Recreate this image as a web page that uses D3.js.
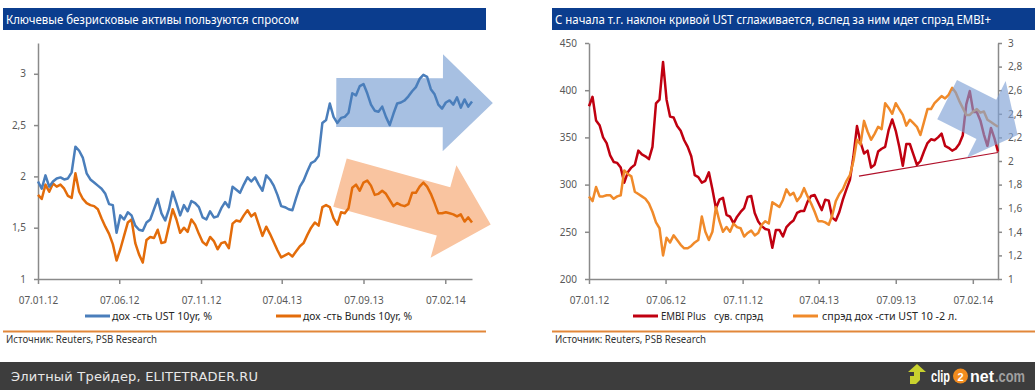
<!DOCTYPE html>
<html>
<head>
<meta charset="utf-8">
<script src="https://cdn.jsdelivr.net/npm/d3@7"></script>
<style>
  body { margin: 0; background: #fff; }
  svg { display: block; }
  text { font-family: "Noto Sans", "Open Sans", sans-serif; }
  .tick text { fill: #595959; font-size: 10px; }
  .axis path, .axis line { stroke: #8a8a8a; stroke-width: 1.5; }
</style>
</head>
<body>
<svg id="viz" width="1035" height="390"></svg>
<script>
// weekly observations starting 07.01.2012
const firstWeek = '2012-01-07';

const ustYield = [
  1.95,1.88,2.01,1.90,1.95,1.98,1.99,1.97,1.98,2.04,
  2.29,2.25,2.18,2.03,1.97,1.94,1.91,1.88,1.83,1.73,
  1.72,1.45,1.62,1.58,1.65,1.62,1.52,1.48,1.47,1.55,
  1.58,1.68,1.78,1.64,1.57,1.68,1.85,1.74,1.62,1.72,
  1.66,1.76,1.74,1.70,1.60,1.58,1.66,1.60,1.61,1.69,
  1.75,1.70,1.90,1.87,1.84,1.92,1.99,1.95,1.99,1.92,
  1.86,2.01,1.97,1.91,1.82,1.71,1.70,1.68,1.67,1.79,
  1.90,1.96,2.05,2.13,2.15,2.20,2.52,2.55,2.71,2.58,
  2.52,2.57,2.58,2.62,2.81,2.79,2.88,2.90,2.81,2.70,
  2.64,2.63,2.68,2.58,2.50,2.61,2.71,2.72,2.74,2.78,
  2.83,2.87,2.95,2.99,2.97,2.85,2.80,2.70,2.66,2.72,
  2.74,2.70,2.77,2.67,2.75,2.68,2.73
];
const bundYield = [
  1.82,1.78,1.92,1.85,1.93,1.90,1.92,1.88,1.81,1.79,
  2.03,1.85,1.78,1.74,1.72,1.71,1.68,1.59,1.51,1.44,
  1.34,1.18,1.29,1.42,1.55,1.58,1.35,1.24,1.16,1.38,
  1.41,1.40,1.48,1.35,1.36,1.52,1.68,1.58,1.45,1.50,
  1.46,1.58,1.53,1.44,1.36,1.33,1.41,1.37,1.29,1.35,
  1.36,1.30,1.54,1.57,1.56,1.62,1.67,1.61,1.64,1.53,
  1.42,1.51,1.44,1.36,1.28,1.21,1.23,1.25,1.22,1.27,
  1.32,1.35,1.43,1.50,1.55,1.52,1.70,1.72,1.70,1.59,
  1.53,1.65,1.64,1.69,1.89,1.92,1.86,1.94,1.96,1.91,
  1.82,1.83,1.86,1.83,1.77,1.71,1.74,1.72,1.71,1.73,
  1.84,1.84,1.90,1.94,1.90,1.83,1.74,1.64,1.64,1.65,
  1.64,1.63,1.61,1.63,1.56,1.60,1.55
];
const embiSpread = [
  383,393,368,363,350,344,331,324,323,318,
  302,313,318,321,336,332,330,327,340,386,
  390,430,390,372,371,362,357,347,340,330,
  310,308,302,304,313,295,275,284,286,268,
  266,259,266,271,275,287,288,270,261,256,
  253,252,233,252,252,245,255,259,262,270,
  272,272,282,288,289,281,273,284,283,265,
  262,271,284,295,305,330,362,345,333,336,
  318,321,335,338,340,358,369,357,340,320,
  343,343,332,321,325,335,344,348,347,350,
  354,341,339,336,338,343,352,385,399,377,
  377,368,353,341,360,349,335
];
const ust10y2y = [
  1.70,1.66,1.78,1.70,1.70,1.71,1.71,1.68,1.70,1.71,
  1.92,1.89,1.87,1.74,1.72,1.70,1.68,1.64,1.57,1.48,
  1.43,1.20,1.35,1.31,1.37,1.33,1.29,1.26,1.26,1.28,
  1.31,1.33,1.53,1.40,1.33,1.40,1.61,1.49,1.40,1.44,
  1.40,1.47,1.44,1.43,1.36,1.39,1.41,1.37,1.39,1.46,
  1.49,1.47,1.65,1.63,1.61,1.67,1.76,1.71,1.73,1.66,
  1.70,1.77,1.70,1.64,1.57,1.49,1.49,1.48,1.46,1.54,
  1.66,1.72,1.76,1.83,1.88,2.00,2.18,2.14,2.34,2.25,
  2.18,2.23,2.29,2.27,2.49,2.45,2.40,2.49,2.44,2.39,
  2.30,2.35,2.32,2.29,2.22,2.33,2.44,2.44,2.49,2.52,
  2.55,2.53,2.56,2.62,2.58,2.51,2.45,2.39,2.39,2.42,
  2.44,2.41,2.42,2.35,2.33,2.31,2.29
];

const dateTicks = ['07.01.12', '07.06.12', '07.11.12', '07.04.13', '07.09.13', '07.02.14'];
const yieldTicks = [1, 1.5, 2, 2.5, 3];
const embiTicks = [200, 250, 300, 350, 400, 450];
const slopeTicks = [1, 1.2, 1.4, 1.6, 1.8, 2, 2.2, 2.4, 2.6, 2.8, 3];

// EMBI support line (left axis units)
const embiSupport = [['2013-06-26', 309], ['2014-03-29', 334]];

const titles = [
  'Ключевые безрисковые активы пользуются спросом',
  'С начала т.г. наклон кривой UST сглаживается, вслед за ним идет спрэд EMBI+'
];
const source = 'Источник: Reuters, PSB Research';

const parseISO = d3.timeParse('%Y-%m-%d');
const parseTick = d3.timeParse('%d.%m.%y');
const start = parseISO(firstWeek);
const dates = ustYield.map((_, i) => d3.timeDay.offset(start, 7 * i));
const comma = v => String(v).replace('.', ',');

const svg = d3.select('#viz');

// ---------- frames, titles, footers
function frame(x0, x1, title, titleLen) {
  svg.append('rect').attr('x', x0).attr('y', 8).attr('width', x1 - x0).attr('height', 22)
    .attr('fill', '#0b3d8e');
  svg.append('text').attr('x', x0 + 3).attr('y', 24)
    .attr('fill', '#fff').attr('font-size', 12)
    .attr('textLength', titleLen).attr('lengthAdjust', 'spacingAndGlyphs')
    .text(title);
  svg.append('line').attr('x1', x0).attr('x2', x1).attr('y1', 331.5).attr('y2', 331.5)
    .attr('stroke', '#e2873a').attr('stroke-width', 2);
  svg.append('text').attr('x', x0 + 3).attr('y', 343)
    .attr('fill', '#333').attr('font-size', 10.5)
    .attr('textLength', 151).attr('lengthAdjust', 'spacingAndGlyphs')
    .text(source);
}
frame(3, 486, titles[0], 293);
frame(552, 1035, titles[1], 436);

// ---------- arrow helper (annotation shapes)
function arrowPath(t, p, body, head, headLen) {
  const dx = p[0] - t[0], dy = p[1] - t[1];
  const L = Math.hypot(dx, dy);
  const ux = dx / L, uy = dy / L, nx = -uy, ny = ux;
  const bx = t[0] + ux * (L - headLen), by = t[1] + uy * (L - headLen);
  const pts = [
    [t[0] + nx * body, t[1] + ny * body],
    [bx + nx * body, by + ny * body],
    [bx + nx * head, by + ny * head],
    p,
    [bx - nx * head, by - ny * head],
    [bx - nx * body, by - ny * body],
    [t[0] - nx * body, t[1] - ny * body]
  ];
  return d3.line()(pts) + 'Z';
}

// ---------- left chart
{
  const x = d3.scaleTime().domain([dates[0], dates[dates.length - 1]]).range([38, 472]);
  const y = d3.scaleLinear().domain([1, 3.3]).range([279, 43]);

  // arrows (behind lines)
  svg.append('path')
    .attr('d', arrowPath([x(parseISO('2013-07-18')), y(2.72)], [x(parseISO('2014-05-07')), y(2.715)], 24.5, 48.5, 50))
    .attr('fill', '#a7c0e2');
  svg.append('path')
    .attr('d', arrowPath([x(parseISO('2013-07-25')), y(1.94)], [x(parseISO('2014-05-03')), y(1.53)], 25, 48, 49))
    .attr('fill', '#f9c4a0');

  svg.append('g').attr('class', 'axis')
    .attr('transform', 'translate(0,279)')
    .call(d3.axisBottom(x).tickValues(dateTicks.map(parseTick))
      .tickFormat(d3.timeFormat('%d.%m.%y')).tickSize(5).tickSizeOuter(0).tickPadding(13));
  svg.append('g').attr('class', 'axis')
    .attr('transform', 'translate(38,0)')
    .call(d3.axisLeft(y).tickValues(yieldTicks).tickFormat(comma)
      .tickSize(4).tickSizeOuter(0).tickPadding(8));

  const line = d3.line().x((d, i) => x(dates[i])).y(d => y(d));
  svg.append('path').datum(bundYield).attr('d', line)
    .attr('fill', 'none').attr('stroke', '#e36c0a').attr('stroke-width', 2.5).attr('stroke-linejoin', 'round');
  svg.append('path').datum(ustYield).attr('d', line)
    .attr('fill', 'none').attr('stroke', '#4a7ebb').attr('stroke-width', 2.5).attr('stroke-linejoin', 'round');

  // legend
  const lg = [
    { x: 85, color: '#4a7ebb', label: 'дох -сть UST 10yr, %', len: 100 },
    { x: 276, color: '#e36c0a', label: 'дох -сть Bunds 10yr, %', len: 109 }
  ];
  lg.forEach(d => {
    svg.append('line').attr('x1', d.x).attr('x2', d.x + 25).attr('y1', 316).attr('y2', 316)
      .attr('stroke', d.color).attr('stroke-width', 3);
    svg.append('text').attr('x', d.x + 27).attr('y', 320).attr('font-size', 11).attr('fill', '#262626')
      .attr('textLength', d.len).attr('lengthAdjust', 'spacingAndGlyphs').text(d.label);
  });
}

// ---------- right chart
{
  const x = d3.scaleTime().domain([dates[0], dates[dates.length - 1]]).range([589, 998]);
  const yL = d3.scaleLinear().domain([200, 450]).range([279, 43]);
  const yR = d3.scaleLinear().domain([1, 3]).range([279, 43]);

  svg.append('g').attr('class', 'axis')
    .attr('transform', 'translate(0,279)')
    .call(d3.axisBottom(x).tickValues(dateTicks.map(parseTick))
      .tickFormat(d3.timeFormat('%d.%m.%y')).tickSize(5).tickSizeOuter(0).tickPadding(13));
  svg.append('g').attr('class', 'axis')
    .attr('transform', 'translate(589,0)')
    .call(d3.axisLeft(yL).tickValues(embiTicks).tickSize(4).tickSizeOuter(0).tickPadding(8));
  svg.append('g').attr('class', 'axis')
    .attr('transform', 'translate(998,0)')
    .call(d3.axisRight(yR).tickValues(slopeTicks).tickFormat(comma)
      .tickSize(4).tickSizeOuter(0).tickPadding(6));

  svg.append('path').datum(embiSpread)
    .attr('d', d3.line().x((d, i) => x(dates[i])).y(d => yL(d)))
    .attr('fill', 'none').attr('stroke', '#c00010').attr('stroke-width', 2.5).attr('stroke-linejoin', 'round');
  svg.append('path').datum(ust10y2y)
    .attr('d', d3.line().x((d, i) => x(dates[i])).y(d => yR(d)))
    .attr('fill', 'none').attr('stroke', '#f08a2a').attr('stroke-width', 2.5).attr('stroke-linejoin', 'round');

  svg.append('path').datum(embiSupport)
    .attr('d', d3.line().x(d => x(parseISO(d[0]))).y(d => yL(d[1])))
    .attr('stroke', '#b0102a').attr('stroke-width', 1.2).attr('fill', 'none');

  svg.append('path')
    .attr('d', arrowPath([x(parseISO('2013-12-18')), yR(2.52)], [x(parseISO('2014-05-07')), yR(2.22)], 22, 43, 35))
    .attr('fill', '#7fa2d6').attr('fill-opacity', 0.65);

  const lg = [
    { x: 633, color: '#c00010', parts: [['EMBI Plus', 661, 45], ['сув. спрэд', 714, 49]] },
    { x: 793, color: '#f08a2a', parts: [['спрэд дох -сти UST 10 -2 л.', 822, 135]] }
  ];
  lg.forEach(d => {
    svg.append('line').attr('x1', d.x).attr('x2', d.x + 25).attr('y1', 316).attr('y2', 316)
      .attr('stroke', d.color).attr('stroke-width', 3);
    d.parts.forEach(p => {
      svg.append('text').attr('x', p[1]).attr('y', 320).attr('font-size', 11).attr('fill', '#262626')
        .attr('textLength', p[2]).attr('lengthAdjust', 'spacingAndGlyphs').text(p[0]);
    });
  });
}

// ---------- bottom band
svg.append('rect').attr('x', 0).attr('y', 362).attr('width', 1035).attr('height', 28).attr('fill', '#3d3d3d');
svg.append('text').attr('x', 11).attr('y', 381)
  .style('font-family', '"DejaVu Sans", sans-serif').attr('font-size', 13).attr('fill', '#e8e8e8')
  .attr('textLength', 247).text('Элитный Трейдер, ELITETRADER.RU');

// clip2net mark
svg.append('path')
  .attr('d', 'M910,384 L910,376 L914,376 L914,372 L908,372 L917,364 L926,372 L920,372 L920,380 L916,384 Z')
  .attr('fill', '#c9d22e');
const logo = [['clip', 931, '#ffffff', 19], ['net', 970, '#ffffff', 24], ['.com', 995, '#a0a0a0', 30]];
logo.forEach(d => {
  svg.append('text').attr('x', d[1]).attr('y', 382)
    .style('font-family', '"Liberation Sans", Arial, sans-serif')
    .attr('font-size', 16).attr('font-weight', 'bold').attr('fill', d[2])
    .attr('textLength', d[3]).attr('lengthAdjust', 'spacingAndGlyphs').text(d[0]);
});
svg.append('circle').attr('cx', 960.5).attr('cy', 376).attr('r', 7.5).attr('fill', '#f28c1e');
svg.append('text').attr('x', 960.5).attr('y', 380.5).attr('text-anchor', 'middle')
  .style('font-family', '"Liberation Sans", Arial, sans-serif')
  .attr('font-size', 11).attr('font-weight', 'bold').attr('fill', '#fff').text('2');
</script>
</body>
</html>
